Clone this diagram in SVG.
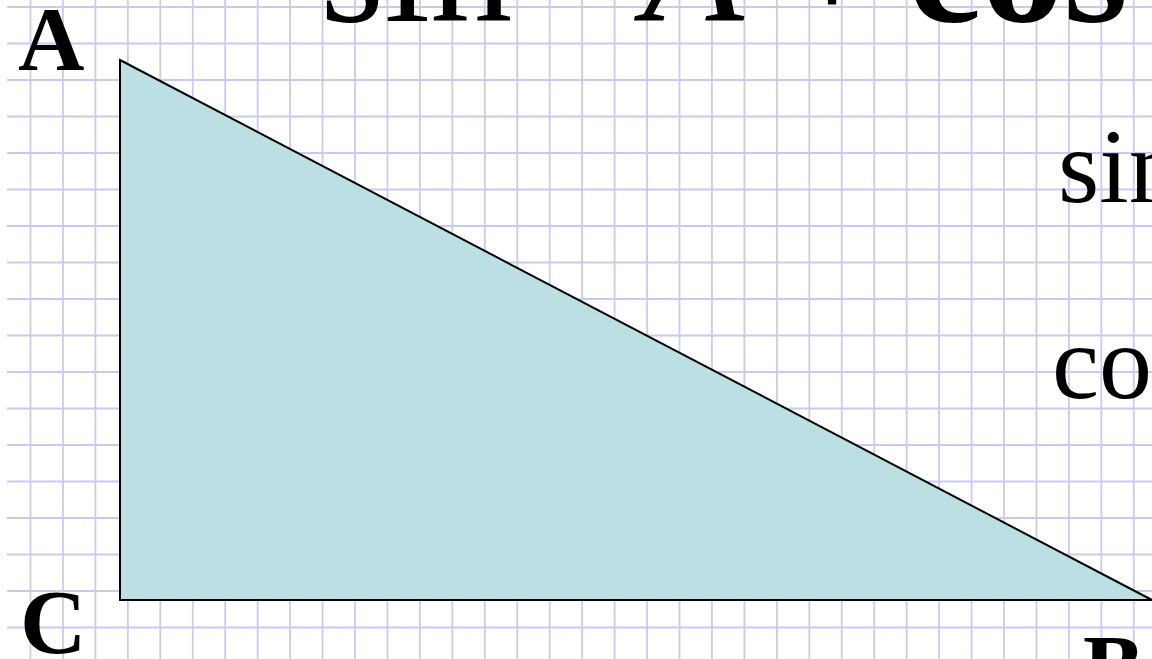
<svg xmlns="http://www.w3.org/2000/svg" width="1152" height="659" viewBox="0 0 1152 659">
<style>
.grid{stroke:#cacaf0;stroke-width:1.8;fill:none}
.lbl{font-family:"Liberation Serif","Times New Roman",serif;font-weight:bold;font-size:92px;fill:#000}
.big{font-family:"Liberation Serif","Times New Roman",serif;font-size:165px;fill:#000}
.side{font-family:"Liberation Serif","Times New Roman",serif;font-size:106px;fill:#000}
</style>
<rect x="0" y="0" width="1152" height="659" fill="#ffffff"/>
<g id="grid">
<path class="grid" d="M30.5 0V659M62.95 0V659M95.4 0V659M127.85 0V659M160.3 0V659M192.75 0V659M225.2 0V659M257.65 0V659M290.1 0V659M322.55 0V659M355 0V659M387.45 0V659M419.9 0V659M452.35 0V659M484.8 0V659M517.25 0V659M549.7 0V659M582.15 0V659M614.6 0V659M647.05 0V659M679.5 0V659M711.95 0V659M744.4 0V659M776.85 0V659M809.3 0V659M841.75 0V659M874.2 0V659M906.65 0V659M939.1 0V659M971.55 0V659M1004 0V659M1036.45 0V659M1068.9 0V659M1101.35 0V659M1133.8 0V659"/>
<path class="grid" d="M7 7H1152M7 43.5H1152M7 80H1152M7 116.5H1152M7 153H1152M7 189.5H1152M7 226H1152M7 262.5H1152M7 299H1152M7 335.5H1152M7 372H1152M7 408.5H1152M7 445H1152M7 481.5H1152M7 518H1152M7 554.5H1152M7 591H1152M7 627.5H1152"/>
</g>
<g id="formula">
<text class="big" x="320" y="21">sin</text>
<text class="big" x="643" y="21" font-style="italic">A</text>
<text class="big" x="832" y="21" text-anchor="middle">+</text>
<text class="big" x="908" y="21" font-weight="bold">cos</text>
</g>
<g id="triangle">
<polygon points="120,60 120,600 1152,600" fill="#bbdfe3" stroke="#000" stroke-width="2" stroke-linejoin="miter"/>
</g>
<g id="labels">
<text class="lbl" x="18" y="70">A</text>
<text class="lbl" x="20" y="653">C</text>
<text class="lbl" x="1083" y="698">B</text>
</g>
<g id="side-text">
<text class="side" x="1058" y="202">sin</text>
<text class="side" x="1052" y="398">cos</text>
</g>
</svg>
